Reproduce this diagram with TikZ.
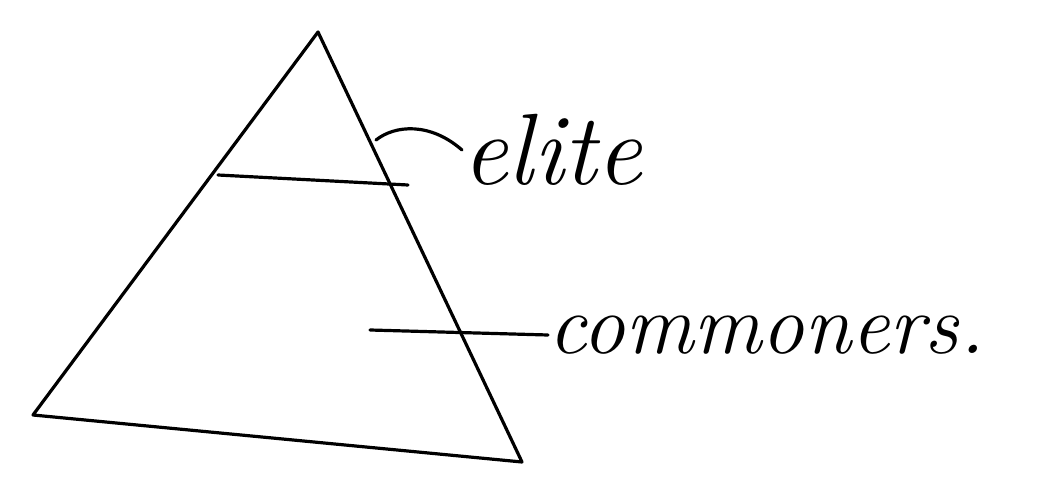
\documentclass[tikz,border=0pt]{standalone}
\begin{document}
\begin{tikzpicture}[x=0.75pt,y=-0.75pt,
  pen/.style={line width=2.4pt,line cap=round,line join=round,black},
  lbl/.style={inner sep=0pt,anchor=west,font=\itshape\fontsize{64}{64}\selectfont}]
\useasboundingbox (0,0) rectangle (1041,477);
\coordinate (apex) at (318,32);
\coordinate (bl) at (33,415);
\coordinate (br) at (522,462);
\coordinate (ml) at (218,175);
\coordinate (mr) at (408,185);
\draw[pen] (apex) -- (bl) -- (br) -- cycle;
\draw[pen] (ml) -- (mr);
\node[lbl,font=\itshape\fontsize{76}{76}\selectfont] (elite) at (462,150) {elite};
\node[lbl] (comm) at (548,335) {commoners.};
\coordinate (e0) at (376,140);
\coordinate (c0) at (370,330);
\draw[pen] (e0) .. controls (395,125) and (430,122) .. (elite.west);
\draw[pen] (c0) -- (comm.west);
\end{tikzpicture}
\end{document}
